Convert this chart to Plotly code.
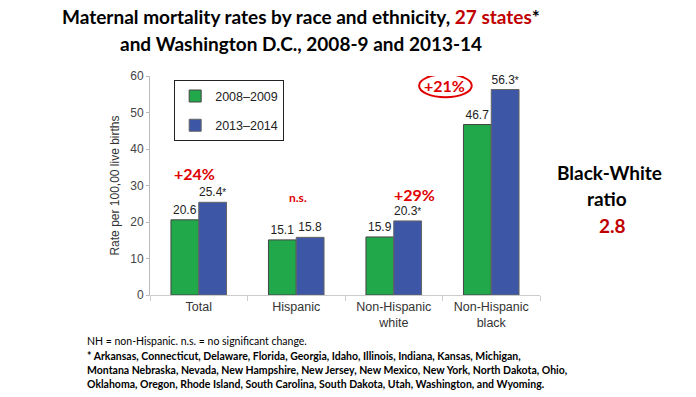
import plotly.graph_objects as go

categories = ["Total", "Hispanic", "Non-Hispanic<br>white", "Non-Hispanic<br>black"]
series_names = ["2008–2009", "2013–2014"]
values_2008 = [20.6, 15.1, 15.9, 46.7]
values_2013 = [25.4, 15.8, 20.3, 56.3]
significant_2013 = [True, False, True, True]
change_labels = ["+24%", "n.s.", "+29%", "+21%"]
y_ticks = [0, 10, 20, 30, 40, 50, 60]

GREEN = "#21A84A"
BLUE = "#3D56A6"
RED = "#E00000"
DRED = "#C00000"
FONT = "Lato"

text_2008 = [f"{v}" for v in values_2008]
text_2013 = [f"{v}" + ("<span style='font-size:10px'>*</span>" if s else "") for v, s in zip(values_2013, significant_2013)]

fig = go.Figure()
fig.add_trace(go.Bar(x=categories, y=values_2008, name=series_names[0], legendgroup="a",
                     marker=dict(color=GREEN, line=dict(color="#444", width=1)),
                     text=text_2008, textposition="outside", textfont=dict(family="Liberation Sans", size=12, color="#222"), cliponaxis=False))
fig.add_trace(go.Bar(x=categories, y=values_2013, name=series_names[1], legendgroup="b",
                     marker=dict(color=BLUE, line=dict(color="#666", width=1)),
                     text=text_2013, textposition="outside", textfont=dict(family="Liberation Sans", size=12, color="#222"), cliponaxis=False))

fig.update_layout(
    width=696, height=397,
    margin=dict(l=150, r=156, t=76, b=102),
    plot_bgcolor="white", paper_bgcolor="white",
    barmode="group", bargap=0.43, bargroupgap=0,
    showlegend=True,
    legend=dict(x=0.062, y=0.98, xanchor="left", yanchor="top", bordercolor="#222", borderwidth=1, bgcolor="white",
                font=dict(family="Liberation Sans", size=12.5, color="#222"), tracegroupgap=10),
    font=dict(family="Liberation Sans"),
)
fig.update_yaxes(range=[0, 60], tickvals=y_ticks, showgrid=False, showline=True, linecolor="#bbb", linewidth=1,
                 ticks="outside", ticklen=3, tickcolor="#bbb", tickfont=dict(size=12, color="#444"),
                 title=dict(text="Rate per 100,00 live births", font=dict(size=12, color="#333"), standoff=8), zeroline=False)
fig.update_xaxes(showgrid=False, showline=True, linecolor="#ccc", linewidth=1, ticks="outside", tickson="boundaries",
                 ticklen=5, tickcolor="#ccc", tickfont=dict(size=12.5, color="#333"))

# change labels
ann_pos = [(-4, 33.3, 16), (2, 26.8, 12), (21, 27.4, 16), (-47, 57.5, 16)]
for cat, lab, (dx, yv, fs) in zip(categories, change_labels, ann_pos):
    fig.add_annotation(x=cat, y=yv, xref="x", yref="y", text=f"<b>{lab}</b>", showarrow=False, xshift=dx,
                       font=dict(family=FONT, size=fs, color=RED))

fig.add_shape(type="circle", xref="paper", yref="y", x0=0.69, x1=0.825, y0=54.2, y1=60.5,
              line=dict(color=RED, width=2))

# title
title_lines = [("Maternal mortality rates by race and ethnicity, <span style='color:#C00000'>27 states</span>*", 16),
               ("and Washington D.C., 2008-9 and 2013-14", 43)]
for txt, py in title_lines:
    fig.add_annotation(x=(301 - 150) / 390, y=(295 - py) / 219, xref="paper", yref="paper", text=f"<b>{txt}</b>",
                       showarrow=False, xanchor="center", yanchor="middle", font=dict(family=FONT, size=19, color="black"))

# Black-White ratio
for txt, px, py, col in [("Black-White", 609, 172, "black"), ("ratio", 607, 198, "black"), ("2.8", 612, 225, DRED)]:
    fig.add_annotation(x=(px - 150) / 390, y=(295 - py) / 219, xref="paper", yref="paper", text=f"<b>{txt}</b>",
                       showarrow=False, xanchor="center", yanchor="middle", font=dict(family=FONT, size=19, color=col))

# footnotes
foot = [("NH = non-Hispanic. n.s. = no significant change.", 341, False),
        ("* Arkansas, Connecticut, Delaware, Florida, Georgia, Idaho, Illinois, Indiana, Kansas, Michigan,", 356, True),
        ("Montana Nebraska, Nevada, New Hampshire, New Jersey, New Mexico, New York, North Dakota, Ohio,", 370, True),
        ("Oklahoma, Oregon, Rhode Island, South Carolina, South Dakota, Utah, Washington, and Wyoming.", 384, True)]
for txt, py, bold in foot:
    fig.add_annotation(x=(85 - 150) / 390, y=(295 - py) / 219, xref="paper", yref="paper",
                       text=f"<b>{txt}</b>" if bold else txt, showarrow=False, xanchor="left", yanchor="middle",
                       font=dict(family=FONT, size=10.5, color="black"))

fig.write_html("out.html", config={"displayModeBar": False}, post_script="document.body.style.margin='0';")
